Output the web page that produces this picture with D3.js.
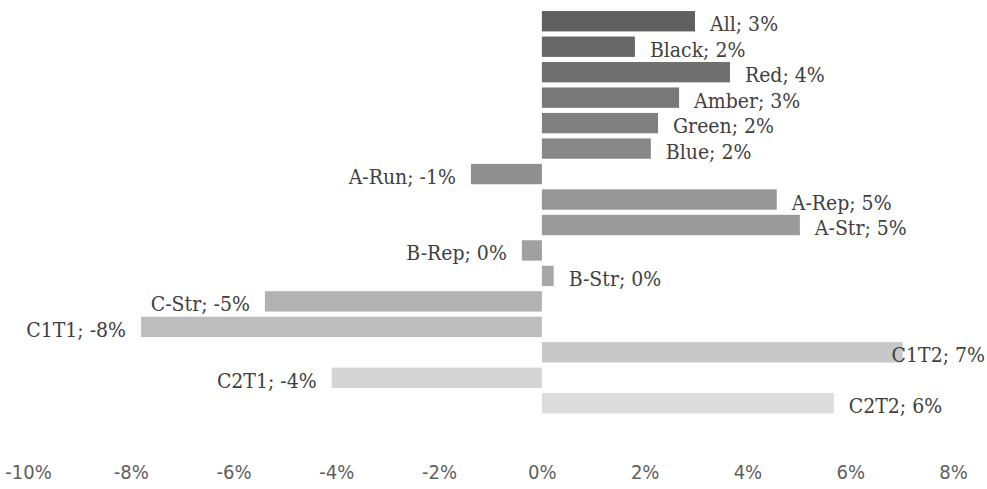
<!DOCTYPE html>
<html>
<head>
    <script src="https://cdn.jsdelivr.net/npm/d3@7"></script>
</head>

<style>
    body { margin: 0; background: #fff; }
    .label { font-family: "DejaVu Serif Condensed", "DejaVu Serif", serif; font-size: 21px; fill: #404040; }
    .tick text { font-family: "DejaVu Sans Condensed", "Liberation Sans Narrow", sans-serif; font-size: 20px; fill: #606060; }
</style>

<body>
<div id="chart"></div>

<script>

    var categories = ['All', 'Black', 'Red', 'Amber', 'Green', 'Blue', 'A-Run', 'A-Rep', 'A-Str',
        'B-Rep', 'B-Str', 'C-Str', 'C1T1', 'C1T2', 'C2T1', 'C2T2'];
    var values = [2.98, 1.81, 3.66, 2.67, 2.26, 2.12, -1.38, 4.57, 5.02,
        -0.39, 0.23, -5.39, -7.80, 7.02, -4.09, 5.68];
    var colors = ['#606060', '#676767', '#707070', '#787878', '#808080', '#878787', '#8f8f8f', '#969696',
        '#9a9a9a', '#a0a0a0', '#a8a8a8', '#b2b2b2', '#bdbdbd', '#c8c8c8', '#d4d4d4', '#dcdcdc'];
    var ticks = [-10, -8, -6, -4, -2, 0, 2, 4, 6, 8];

    var width = 987;
    var height = 489;

    var xScale = d3.scaleLinear()
        .domain([-10, 8])
        .range([28, 953]);

    var yScale = d3.scaleBand()
        .domain(categories)
        .range([8.5, 416])
        .paddingInner(0.2)
        .paddingOuter(0.1);

    var svg = d3.select('#chart').append('svg')
        .attr('width', width)
        .attr('height', height);

    var data = categories.map(function(c, i) { return { name: c, value: values[i], color: colors[i] }; });

    svg.selectAll('rect.bar')
        .data(data)
        .enter()
        .append('rect')
        .attr('class', 'bar')
        .attr('x', function(d) { return xScale(Math.min(0, d.value)); })
        .attr('y', function(d) { return yScale(d.name); })
        .attr('width', function(d) { return Math.abs(xScale(d.value) - xScale(0)); })
        .attr('height', yScale.bandwidth())
        .attr('fill', function(d) { return d.color; });

    svg.selectAll('text.label')
        .data(data)
        .enter()
        .append('text')
        .attr('class', 'label')
        .attr('x', function(d) { return xScale(d.value) + (d.value >= 0 ? 15 : -15); })
        .attr('y', function(d) { return yScale(d.name) + yScale.bandwidth() / 2 + 10; })
        .attr('text-anchor', function(d) { return d.value >= 0 ? 'start' : 'end'; })
        .text(function(d) { return d.name + '; ' + Math.round(d.value) + '%'; })
        .each(function(d) {
            // keep labels inside the chart area like Excel does
            var box = this.getBBox();
            if (box.x + box.width > width - 2) {
                d3.select(this).attr('text-anchor', 'end').attr('x', width - 2);
            }
        });

    var xAxis = d3.axisBottom(xScale)
        .tickValues(ticks)
        .tickSize(0)
        .tickPadding(0)
        .tickFormat(function(d) { return d + '%'; });

    var axis = svg.append('g')
        .attr('transform', 'translate(0, 462)')
        .call(xAxis);

    axis.select('.domain').remove();
    axis.selectAll('.tick text').attr('dy', '0.85em');

</script>
</body>
</html>
